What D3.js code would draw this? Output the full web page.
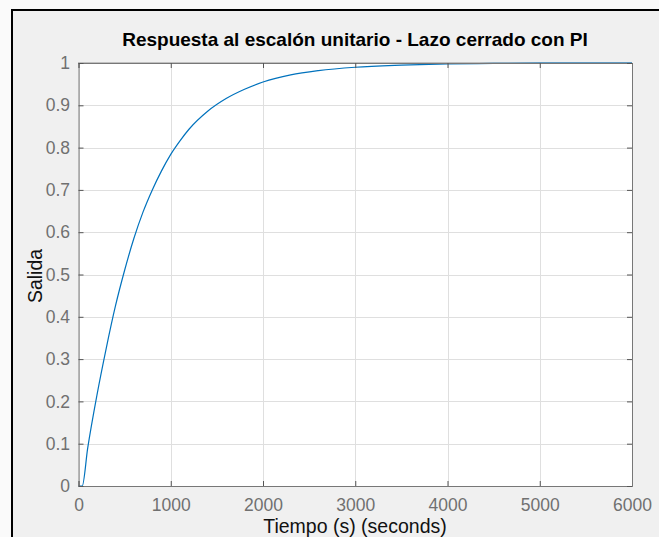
<!DOCTYPE html>
<html>
<head>
<meta charset="utf-8">
<script src="https://cdn.jsdelivr.net/npm/d3@7"></script>
<style>
  html, body { margin: 0; padding: 0; background: #fafafa; }
  svg { display: block; }
</style>
</head>
<body>
<svg id="chart" width="659" height="537"></svg>
<script>
// Closed-loop unit step response with a PI controller
const timeSec = [0, 40, 100, 200, 300, 400, 500, 600, 700, 800, 900, 1000, 1100,
                 1200, 1400, 1600, 1800, 2000, 2300, 2600, 3000, 3500, 4000,
                 4500, 5000, 5500, 6000];
const salida  = [0, 0, 0.09, 0.215, 0.325, 0.425, 0.51, 0.585, 0.648, 0.70, 0.745, 0.784, 0.816,
                 0.844, 0.886, 0.916, 0.938, 0.955, 0.972, 0.982, 0.990, 0.995, 0.998,
                 0.999, 1.0, 1.0, 1.0];
const xTicks = [0, 1000, 2000, 3000, 4000, 5000, 6000];
const yTicks = [0, 0.1, 0.2, 0.3, 0.4, 0.5, 0.6, 0.7, 0.8, 0.9, 1];
const steadyState = 1;

const titleText = "Respuesta al escalón unitario - Lazo cerrado con PI";
const xLabelText = "Tiempo (s) (seconds)";
const yLabelText = "Salida";

const svg = d3.select("#chart");
const W = 659, H = 537;
const plot = { left: 78.5, right: 632, top: 63, bottom: 486 };

// figure window panel
svg.append("rect").attr("x", 12).attr("y", 10).attr("width", W).attr("height", H)
  .attr("fill", "#f0f0f0");
svg.append("path").attr("d", `M12,${H} L12,10 L${W},10`)
  .attr("fill", "none").attr("stroke", "#000").attr("stroke-width", 2);

const x = d3.scaleLinear().domain([0, 6000]).range([plot.left, plot.right]);
const y = d3.scaleLinear().domain([0, 1]).range([plot.bottom, plot.top]);

// axes background
svg.append("rect").attr("x", plot.left).attr("y", plot.top)
  .attr("width", plot.right - plot.left).attr("height", plot.bottom - plot.top)
  .attr("fill", "#fff");

// grid
const grid = svg.append("g").attr("stroke", "#dfdfdf").attr("stroke-width", 1);
xTicks.forEach(t => grid.append("line")
  .attr("x1", Math.round(x(t)) + 0.5).attr("x2", Math.round(x(t)) + 0.5)
  .attr("y1", plot.top).attr("y2", plot.bottom));
yTicks.forEach(t => grid.append("line")
  .attr("x1", plot.left).attr("x2", plot.right)
  .attr("y1", Math.round(y(t)) + 0.5).attr("y2", Math.round(y(t)) + 0.5));

// steady-state reference line
svg.append("line")
  .attr("x1", plot.left).attr("x2", plot.right)
  .attr("y1", y(steadyState)).attr("y2", y(steadyState))
  .attr("stroke", "#333").attr("stroke-width", 1).attr("stroke-dasharray", "1,1");

// response curve
const line = d3.line().x((d, i) => x(timeSec[i])).y(d => y(d)).curve(d3.curveMonotoneX);
svg.append("path").datum(salida)
  .attr("d", line)
  .attr("fill", "none").attr("stroke", "#0072BD").attr("stroke-width", 1.2);

// axes with inward ticks on all four sides
const axisColor = "#777";
const fontFamily = "Liberation Sans, Arial, Helvetica, sans-serif";
const xAxis = svg.append("g").attr("transform", `translate(0,${plot.bottom})`)
  .call(d3.axisBottom(x).tickValues(xTicks).tickSize(-5).tickPadding(14).tickFormat(d3.format("d")));
const xAxisTop = svg.append("g").attr("transform", `translate(0,${plot.top})`)
  .call(d3.axisTop(x).tickValues(xTicks).tickSize(-5).tickFormat(""));
const yAxis = svg.append("g").attr("transform", `translate(${plot.left},0)`)
  .call(d3.axisLeft(y).tickValues(yTicks).tickSize(-5).tickPadding(8.5)
    .tickFormat(d => d === 0 || d === 1 ? d3.format("d")(d) : d3.format(".1f")(d)));
const yAxisRight = svg.append("g").attr("transform", `translate(${plot.right},0)`)
  .call(d3.axisRight(y).tickValues(yTicks).tickSize(-5).tickFormat(""));

[xAxis, xAxisTop, yAxis, yAxisRight].forEach(g => {
  g.selectAll(".domain").attr("stroke", axisColor);
  g.selectAll(".tick line").attr("stroke", "#555");
  g.selectAll(".tick text").attr("fill", "#707070")
    .attr("font-family", fontFamily).attr("font-size", 17.5);
});
xAxis.selectAll(".tick text").attr("dy", "0.6em");

// title and axis labels
svg.append("text").attr("x", 355).attr("y", 46).attr("text-anchor", "middle")
  .attr("font-family", fontFamily).attr("font-size", 19).attr("font-weight", "bold")
  .attr("fill", "#000").text(titleText);
svg.append("text").attr("x", 355).attr("y", 533).attr("text-anchor", "middle")
  .attr("font-family", fontFamily).attr("font-size", 19.5)
  .attr("fill", "#111").text(xLabelText);
svg.append("text").attr("transform", "translate(42,276) rotate(-90)")
  .attr("text-anchor", "middle")
  .attr("font-family", fontFamily).attr("font-size", 19.5)
  .attr("fill", "#111").text(yLabelText);
</script>
</body>
</html>
